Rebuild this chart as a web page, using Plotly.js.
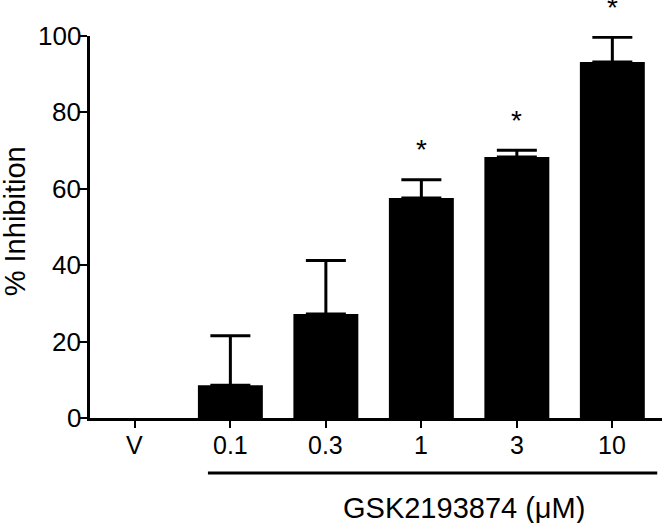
<!DOCTYPE html>
<html>
<head>
<meta charset="utf-8">
<script src="https://cdn.plot.ly/plotly-3.0.1.min.js"></script>
<style>html,body{margin:0;padding:0;background:#fff;}#chart{width:664px;height:523px;}</style>
</head>
<body>
<div id="chart"></div>
<script>
var categories = ["V", "0.1", "0.3", "1", "3", "10"];
var meanInhibition = [0, 8.6, 27.2, 57.6, 68.3, 93.2];
var errorPlus = [0, 12.9, 14.0, 4.8, 1.8, 6.5];
var significant = [false, false, false, true, true, true];
var yTicks = [0, 20, 40, 60, 80, 100];
var xTitle = "GSK2193874 (μM)";
var yTitle = "% Inhibition";

var FONT = "Liberation Sans, Arial, sans-serif";

// the vehicle (0 %) shows neither a bar nor an error bar
var yDrawn = meanInhibition.map(function(v){ return v === 0 ? null : v; });
var errPlusDrawn = errorPlus.map(function(e, i){ return meanInhibition[i] === 0 ? null : e; });

var trace = {
  type: "bar",
  x: categories,
  y: yDrawn,
  width: 0.68,
  marker: {color: "#000", line: {color: "#000", width: 0}},
  error_y: {
    type: "data",
    symmetric: false,
    array: errPlusDrawn,
    arrayminus: categories.map(function(){return 0;}),
    color: "#000",
    thickness: 3,
    width: 20,
    visible: true
  },
  hoverinfo: "none"
};

var annotations = [];
categories.forEach(function(c, i){
  if (significant[i]) {
    annotations.push({
      x: i, xref: "x",
      y: meanInhibition[i] + errorPlus[i], yref: "y",
      yshift: 30,
      text: "*", showarrow: false,
      xanchor: "center", yanchor: "middle",
      font: {family: FONT, size: 28, color: "#000"}
    });
  }
  // category tick label
  annotations.push({
    x: i, xref: "x", y: 0, yref: "paper", yshift: -11,
    text: c, showarrow: false, xanchor: "center", yanchor: "top",
    font: {family: FONT, size: 25, color: "#000"}
  });
});
yTicks.forEach(function(t){
  annotations.push({
    x: 0, xref: "paper", xshift: -7, y: t, yref: "y",
    text: String(t), showarrow: false, xanchor: "right", yanchor: "middle",
    font: {family: FONT, size: 26, color: "#000"}
  });
});
annotations.push({
  x: 3.45, xref: "x", y: -0.235, yref: "paper",
  text: xTitle, showarrow: false, xanchor: "center", yanchor: "middle",
  font: {family: FONT, size: 29, color: "#000"}
});
annotations.push({
  x: -0.1311, xref: "paper", y: 0.515, yref: "paper",
  text: yTitle, showarrow: false, textangle: -90,
  xanchor: "center", yanchor: "middle",
  font: {family: FONT, size: 29, color: "#000"}
});

var layout = {
  width: 664, height: 523,
  margin: {l: 90, r: 2, t: 35.5, b: 105},
  paper_bgcolor: "#fff", plot_bgcolor: "#fff",
  showlegend: false,
  font: {family: FONT, color: "#000"},
  xaxis: {
    type: "category",
    categoryorder: "array", categoryarray: categories,
    range: [-0.47, 5.52],
    showline: true, linecolor: "#000", linewidth: 3,
    ticks: "outside", ticklen: 7, tickwidth: 2, tickcolor: "#000",
    showticklabels: false,
    showgrid: false, zeroline: false,
    fixedrange: true
  },
  yaxis: {
    range: [0, 100],
    tickvals: yTicks,
    showline: true, linecolor: "#000", linewidth: 3,
    ticks: "outside", ticklen: 8, tickwidth: 2, tickcolor: "#000",
    showticklabels: false,
    showgrid: false, zeroline: false,
    fixedrange: true
  },
  shapes: [{
    type: "line", xref: "x", yref: "paper",
    x0: 0.765, x1: 5.47, y0: -0.144, y1: -0.144,
    line: {color: "#000", width: 3}
  }],
  annotations: annotations
};

Plotly.newPlot("chart", [trace], layout, {displayModeBar: false, staticPlot: true});
</script>
</body>
</html>
